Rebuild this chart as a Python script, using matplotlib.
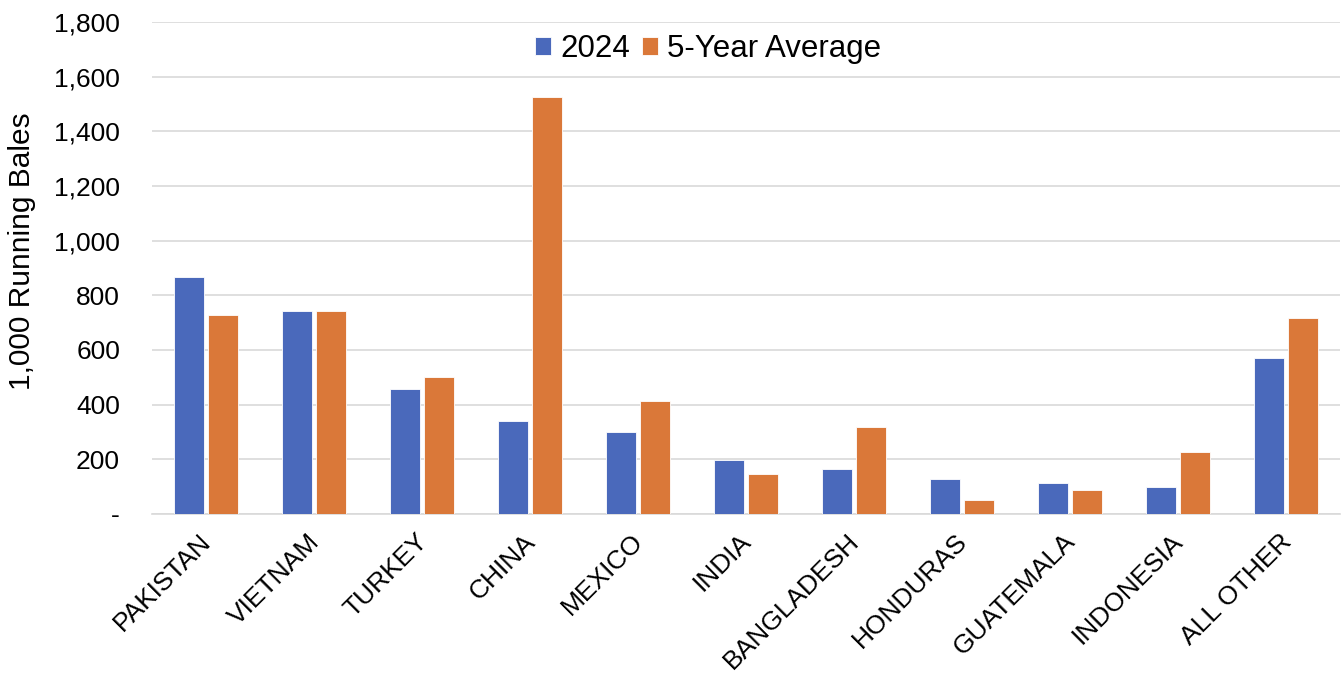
"""Cotton export destinations: 2024 vs 5-year average, grouped bar chart."""

import matplotlib
matplotlib.use('Agg')
import matplotlib.pyplot as plt
import matplotlib.ticker as mticker
import matplotlib.transforms as mtrans
import numpy as np

countries = ['PAKISTAN', 'VIETNAM', 'TURKEY', 'CHINA', 'MEXICO', 'INDIA',
             'BANGLADESH', 'HONDURAS', 'GUATEMALA', 'INDONESIA', 'ALL OTHER']
values_2024 = [867, 744, 457, 341, 299, 199, 165, 127, 115, 100, 571]
values_5yr = [729, 744, 502, 1527, 414, 147, 319, 52, 86, 227, 717]
y_ticks = [0, 200, 400, 600, 800, 1000, 1200, 1400, 1600, 1800]

BLUE = '#4A69BB'
ORANGE = '#DA7839'
GRID = '#D9D9D9'

plt.rcParams['font.family'] = ['Liberation Sans', 'DejaVu Sans']


def tick_fmt(v, pos):
    # Excel accounting style: zero shows as a dash
    if v == 0:
        return '-'
    return f'{int(v):,}'


def main():
    fig = plt.figure(figsize=(13.44, 6.77), dpi=100)
    ax = fig.add_axes([0.1131, 0.2408, 0.8839, 0.7267])

    x = np.arange(len(countries))
    width = 0.28
    off = 0.155
    ax.bar(x - off, values_2024, width, color=BLUE, edgecolor='white', linewidth=0.6,
           label='2024', zorder=3)
    ax.bar(x + off, values_5yr, width, color=ORANGE, edgecolor='white', linewidth=0.6,
           label='5-Year Average', zorder=3)

    ax.set_xlim(-0.5, len(countries) - 0.5)
    ax.set_ylim(0, 1800)
    ax.set_yticks(y_ticks)
    ax.yaxis.set_major_formatter(mticker.FuncFormatter(tick_fmt))
    ax.grid(axis='y', color=GRID, linewidth=1.2, zorder=0)
    ax.set_axisbelow(True)

    for s in ['top', 'right', 'left']:
        ax.spines[s].set_visible(False)
    ax.spines['bottom'].set_color(GRID)
    ax.spines['bottom'].set_linewidth(1.2)

    ax.tick_params(axis='both', length=0, labelsize=19, colors='black')
    ax.tick_params(axis='y', pad=23)
    ax.set_xticks(x)
    ax.set_xticklabels(countries, rotation=45, ha='right', rotation_mode='anchor',
                       fontsize=19)
    ax.tick_params(axis='x', pad=11)
    # nudge rotated labels so their upper end sits under the category
    shift = mtrans.ScaledTranslation(-7 / 100, 0, fig.dpi_scale_trans)
    for lbl in ax.get_xticklabels():
        lbl.set_transform(lbl.get_transform() + shift)

    ax.set_ylabel('1,000 Running Bales', fontsize=21.5)
    # label sits a bit above the middle of the plot, as in the source
    ax.yaxis.set_label_coords(-0.098, 0.535)

    fig.legend(loc='center', bbox_to_anchor=(0.527, 0.928), ncol=2, frameon=False,
               fontsize=22.5, handlelength=0.5, handleheight=0.5, handletextpad=0.3,
               columnspacing=0.4)

    fig.savefig('out.png', dpi=100)


main()
